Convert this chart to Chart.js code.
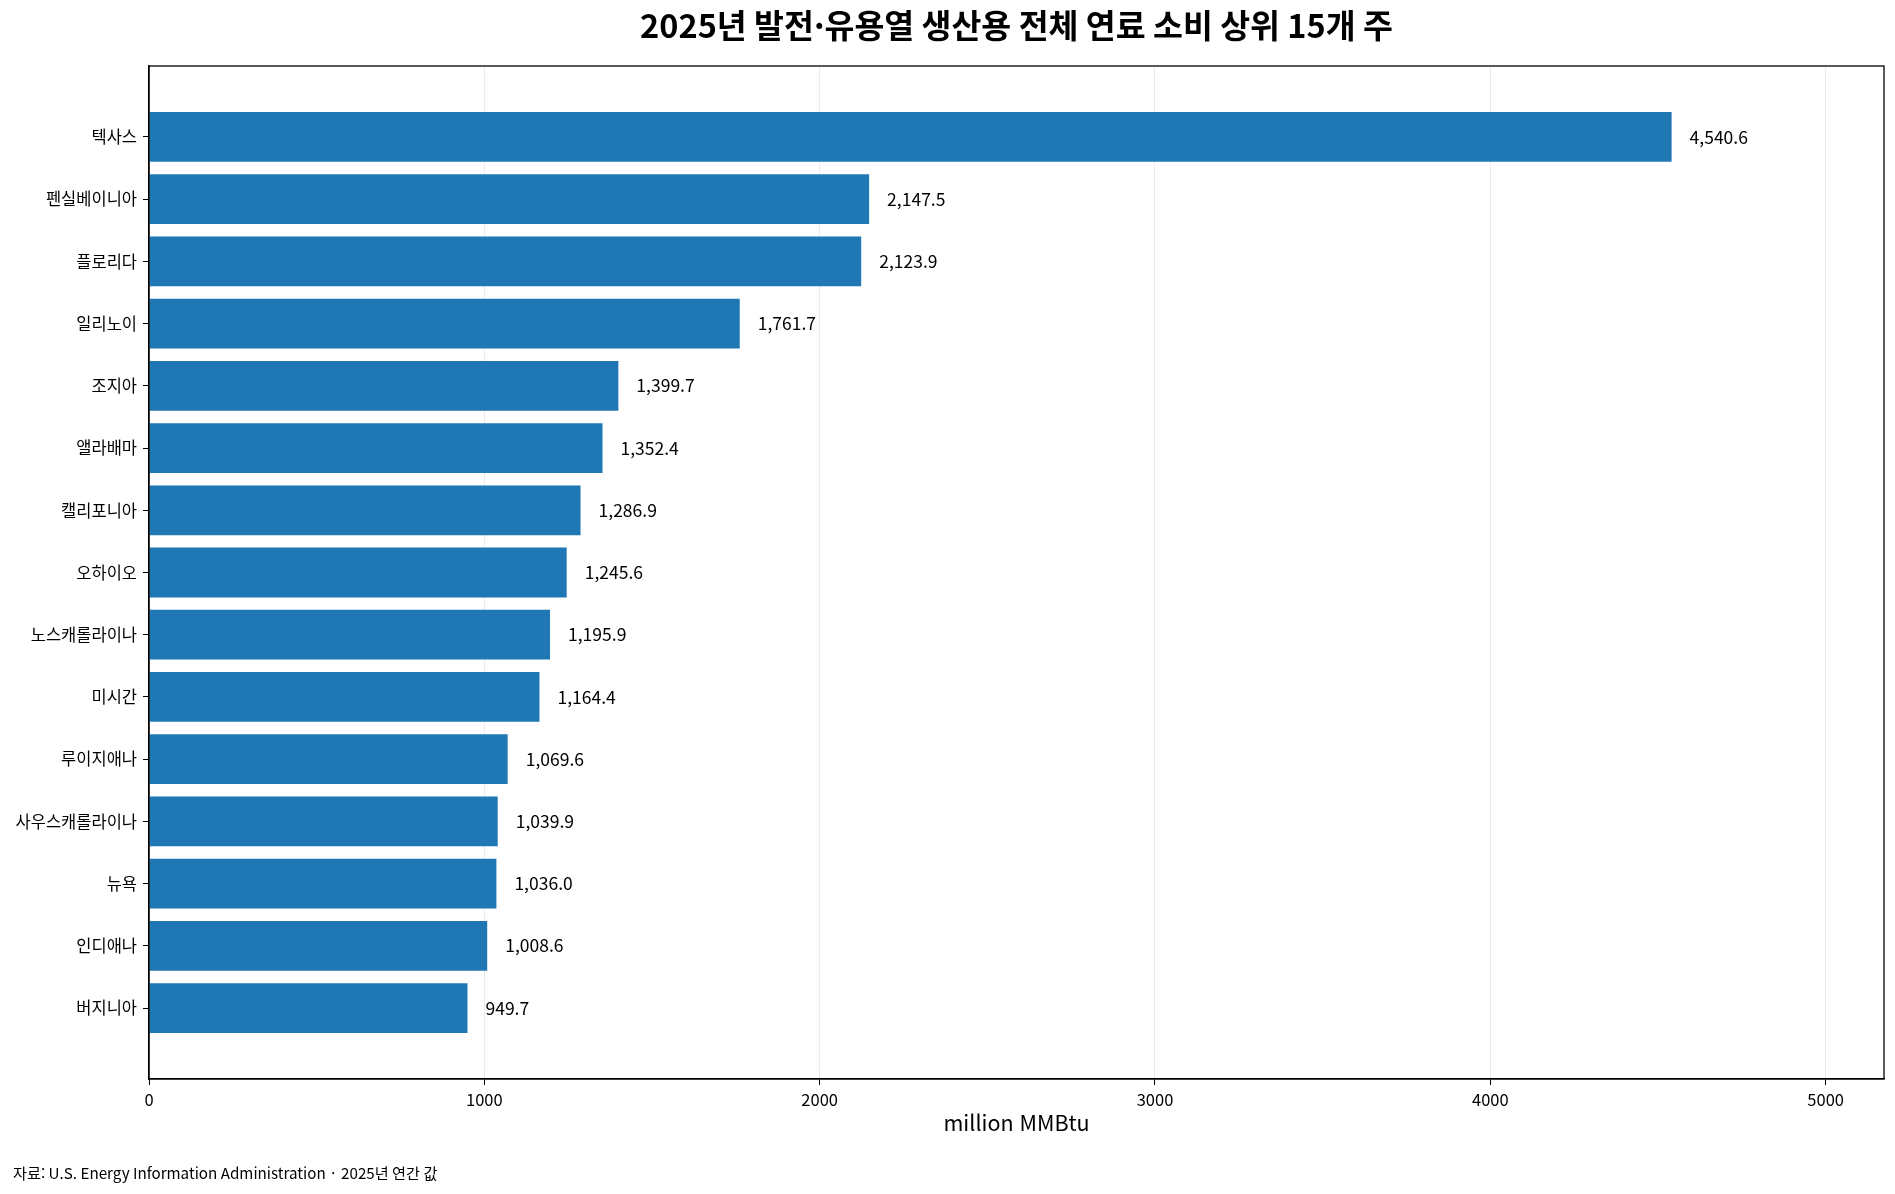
<!DOCTYPE html>
<html lang="ko">
<head>
<meta charset="utf-8">
<title>2025년 발전·유용열 생산용 전체 연료 소비 상위 15개 주</title>
<script src="https://cdn.jsdelivr.net/npm/chart.js@4/dist/chart.umd.min.js"></script>
<style>
    html, body { margin: 0; padding: 0; background: #ffffff; }
    #wrap { width: 1895px; height: 1194px; position: relative; }
</style>
</head>
<body>
<div id="wrap"><canvas id="fuelChart"></canvas></div>
<script>
// ==========================================
// DATA
// ==========================================

const states = [
    '텍사스', '펜실베이니아', '플로리다', '일리노이', '조지아',
    '앨라배마', '캘리포니아', '오하이오', '노스캐롤라이나', '미시간',
    '루이지애나', '사우스캐롤라이나', '뉴욕', '인디애나', '버지니아'
];
const fuelUse = [
    4540.6, 2147.5, 2123.9, 1761.7, 1399.7,
    1352.4, 1286.9, 1245.6, 1195.9, 1164.4,
    1069.6, 1039.9, 1036.0, 1008.6, 949.7
];
const xTicks = [0, 1000, 2000, 3000, 4000, 5000];

const titleText = '2025년 발전·유용열 생산용 전체 연료 소비 상위 15개 주';
const xTitleText = 'million MMBtu';
const sourceText = '자료: U.S. Energy Information Administration · 2025년 연간 값';

const FONT = "'Noto Sans CJK KR', 'Noto Sans', sans-serif";

// ==========================================
// PLUGINS
// ==========================================

// title over the axes, frame (top/right spines) and the source note
const decorPlugin = {
    id: 'decor',
    afterDraw(chart) {
        const { ctx, chartArea } = chart;
        ctx.save();
        ctx.strokeStyle = '#000';
        ctx.lineWidth = 1.3;
        ctx.strokeRect(chartArea.left, chartArea.top,
            chartArea.right - chartArea.left, chartArea.bottom - chartArea.top);

        ctx.fillStyle = '#000';
        ctx.textBaseline = 'middle';
        ctx.textAlign = 'center';
        ctx.font = 'bold 32.5px ' + FONT;
        ctx.fillText(titleText, (chartArea.left + chartArea.right) / 2, 26);

        ctx.textAlign = 'left';
        ctx.font = '15.2px ' + FONT;
        ctx.fillText(sourceText, 13, 1173);
        ctx.restore();
    }
};

// value next to each bar end
const valueLabels = {
    id: 'valueLabels',
    afterDatasetsDraw(chart) {
        const { ctx } = chart;
        const meta = chart.getDatasetMeta(0);
        ctx.save();
        ctx.fillStyle = '#000';
        ctx.font = '17.5px ' + FONT;
        ctx.textAlign = 'left';
        ctx.textBaseline = 'middle';
        meta.data.forEach((bar, i) => {
            const txt = fuelUse[i].toLocaleString('en-US', { minimumFractionDigits: 1, maximumFractionDigits: 1 });
            ctx.fillText(txt, bar.x + 18, bar.y);
        });
        ctx.restore();
    }
};

// ==========================================
// CHART
// ==========================================

document.addEventListener('DOMContentLoaded', function() {
    const ctx = document.getElementById('fuelChart');

    new Chart(ctx, {
        type: 'bar',
        data: {
            datasets: [{
                label: xTitleText,
                data: fuelUse.map((v, i) => ({ x: v, y: i })),
                backgroundColor: '#1f77b4',
                borderWidth: 0,
                barPercentage: 0.8,
                categoryPercentage: 1.0
            }]
        },
        plugins: [decorPlugin, valueLabels],
        options: {
            indexAxis: 'y',
            responsive: true,
            maintainAspectRatio: false,
            animation: false,
            devicePixelRatio: 1,
            layout: { padding: { top: 66, right: 11, bottom: 58, left: 0 } },
            plugins: {
                legend: { display: false },
                title: { display: false },
                tooltip: { enabled: false }
            },
            scales: {
                x: {
                    type: 'linear',
                    position: 'bottom',
                    min: 0,
                    max: 5174,
                    afterBuildTicks: (axis) => { axis.ticks = xTicks.map(v => ({ value: v })); },
                    afterFit: (axis) => { axis.height = 57; },
                    ticks: {
                        color: '#000',
                        padding: 5,
                        font: { family: FONT, size: 16.5 },
                        callback: (v) => String(v)
                    },
                    grid: {
                        color: '#ebebeb',
                        lineWidth: 1,
                        tickColor: '#000',
                        tickLength: 6
                    },
                    border: { display: true, color: '#000', width: 1.3 },
                    title: {
                        display: true,
                        text: xTitleText,
                        color: '#000',
                        font: { family: FONT, size: 21.5 },
                        padding: { top: 0, bottom: 0 }
                    }
                },
                y: {
                    type: 'linear',
                    reverse: true,
                    offset: false,
                    min: -1.14,
                    max: 15.14,
                    afterBuildTicks: (axis) => { axis.ticks = states.map((_, i) => ({ value: i })); },
                    afterFit: (axis) => { axis.width = 149; },
                    ticks: {
                        color: '#000',
                        padding: 6,
                        autoSkip: false,
                        font: { family: FONT, size: 16.5 },
                        callback: (v) => states[v] || ''
                    },
                    grid: {
                        display: true,
                        offset: false,
                        drawOnChartArea: false,
                        color: '#000',
                        tickColor: '#000',
                        tickLength: 6
                    },
                    border: { display: true, color: '#000', width: 1.3 }
                }
            }
        }
    });
});
</script>
</body>
</html>
